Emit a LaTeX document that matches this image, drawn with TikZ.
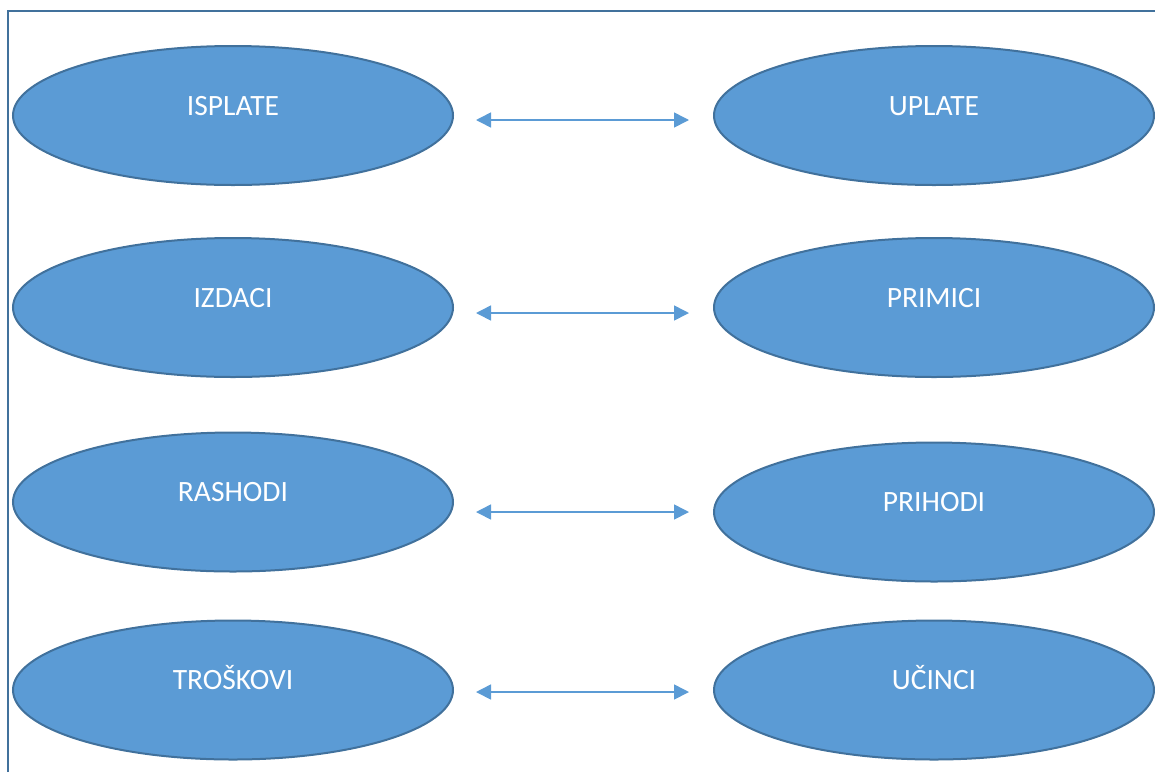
\documentclass[tikz,border=0pt]{standalone}
\usepackage{fontspec}
\setmainfont{Carlito}
\usetikzlibrary{arrows.meta,%
                shapes.geometric}
\definecolor{ovalfill}{HTML}{5B9BD5}
\definecolor{ovalline}{HTML}{41719C}

\begin{document}
\begin{tikzpicture}
  [x=1pt,y=-1pt,
   oval/.style={ellipse,draw=ovalline,line width=2pt,fill=ovalfill,
     minimum width=440pt,minimum height=139pt,inner sep=0pt,
     text=white,font=\fontsize{29.5}{30}\selectfont,
     text height=19pt,text depth=20pt},
   link/.style={ovalfill,line width=1.6pt,
     {Triangle[length=15pt,width=15pt]}-{Triangle[length=15pt,width=15pt]}}]
  \useasboundingbox (0,0) rectangle (1155,772);
  \draw[ovalline,line width=2pt] (8,772) -- (8,11) -- (1155,11);
  \node[oval] (isplate) at (233,115.5) {ISPLATE};
  \node[oval] (uplate) at (934,115.5) {UPLATE};
  \node[oval] (izdaci) at (233,307.5) {IZDACI};
  \node[oval] (primici) at (934,307.5) {PRIMICI};
  \node[oval] (rashodi) at (233,502) {RASHODI};
  \node[oval] (prihodi) at (934,512) {PRIHODI};
  \node[oval] (troskovi) at (233,690) {TROŠKOVI};
  \node[oval] (ucinci) at (934,690) {UČINCI};
  \foreach \from/\to/\dy/\ey in {isplate/uplate/4.5/4.5,izdaci/primici/5.5/5.5,rashodi/prihodi/10/0,troskovi/ucinci/2/2}
    \draw[link] ([shift={(22,\dy)}]\from.east) -- ([shift={(-24,\ey)}]\to.west);
\end{tikzpicture}
\end{document}
